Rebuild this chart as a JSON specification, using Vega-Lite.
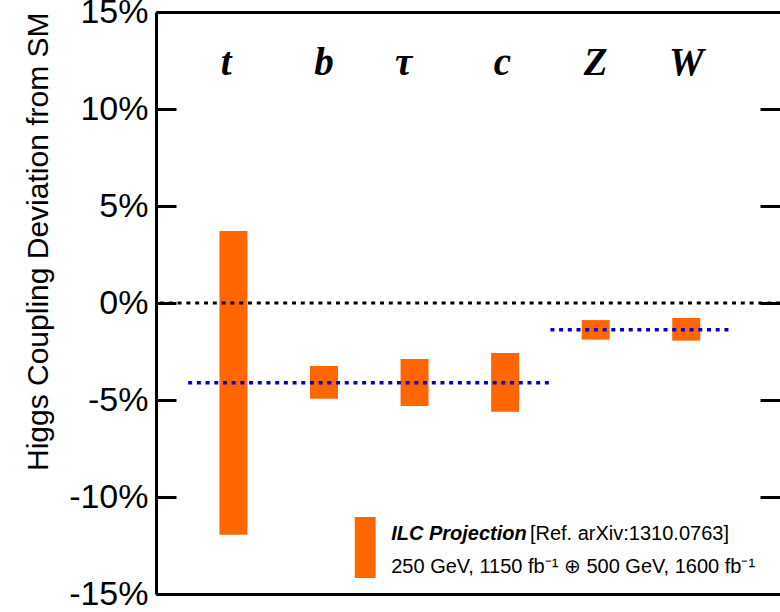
{
  "$schema": "https://vega.github.io/schema/vega-lite/v6.json",
  "width": 624,
  "height": 582,
  "autosize": {"type": "none"},
  "padding": {"left": 156, "top": 12, "right": 0, "bottom": 18},
  "background": "white",
  "config": {"view": {"stroke": null}, "axis": {"grid": false}},
  "datasets": {
    "couplings": [
      {"coupling": "t", "pos": 1, "label_x": 0.92, "low": -11.95, "high": 3.71},
      {"coupling": "b", "pos": 2, "label_x": 2.0, "low": -4.93, "high": -3.25},
      {"coupling": "τ", "pos": 3, "label_x": 2.88, "low": -5.31, "high": -2.89},
      {"coupling": "c", "pos": 4, "label_x": 3.97, "low": -5.6, "high": -2.58},
      {"coupling": "Z", "pos": 5, "label_x": 5.0, "low": -1.89, "high": -0.88},
      {"coupling": "W", "pos": 6, "label_x": 6.0, "low": -1.94, "high": -0.77}
    ],
    "averages": [
      {"group": "fermions", "start": 0.5, "end": 4.5, "mean": -4.11},
      {"group": "bosons", "start": 4.5, "end": 6.47, "mean": -1.38}
    ],
    "reference": [{"value": 0}],
    "legend_box": [{"x1": 2.34, "x2": 2.57, "y1": -11.03, "y2": -14.18}],
    "legend_text": [
      {"part": "title", "text": "ILC Projection", "x": 2.742, "y": -12.22},
      {"part": "ref", "text": "[Ref. arXiv:1310.0763]", "x": 4.274, "y": -12.22},
      {"part": "lumi", "text": "250 GeV, 1150 fb⁻¹ ⊕ 500 GeV, 1600 fb⁻¹", "x": 2.742, "y": -13.92}
    ]
  },
  "resolve": {"axis": {"x": "independent", "y": "independent"}},
  "layer": [
    {
      "data": {"name": "couplings"},
      "mark": {"type": "bar", "size": 28, "color": "#ff6600"},
      "encoding": {
        "x": {"field": "pos", "type": "quantitative",
          "scale": {"domain": [0.2, 6.98], "nice": false, "zero": false},
          "axis": {"orient": "bottom", "domainColor": "black", "domainWidth": 3, "ticks": false, "labels": false, "title": null, "grid": false}},
        "y": {"field": "high", "type": "quantitative",
          "scale": {"domain": [-15, 15], "nice": false, "zero": false},
          "axis": {"orient": "left", "values": [-15, -10, -5, 0, 5, 10, 15], "labelExpr": "datum.value + '%'",
            "labelFont": "Liberation Sans", "labelFontSize": 34, "labelColor": "black", "labelPadding": 28,
            "labelFlush": false, "labelOverlap": false, "labelBound": false,
            "tickSize": -20, "tickWidth": 3, "tickColor": "black",
            "domainColor": "black", "domainWidth": 3,
            "title": "Higgs Coupling Deviation from SM", "titleFont": "Liberation Sans", "titleFontSize": 30,
            "titleFontWeight": "normal", "titleColor": "black", "titleAnchor": "end", "titlePadding": 15, "grid": false}},
        "y2": {"field": "low"}
      }
    },
    {
      "data": {"name": "reference"},
      "mark": {"type": "rule", "color": "black", "strokeWidth": 3, "strokeDash": [4, 4.8]},
      "encoding": {
        "y": {"field": "value", "type": "quantitative",
          "scale": {"domain": [-15, 15], "nice": false, "zero": false},
          "axis": {"orient": "right", "values": [-10, -5, 0, 5, 10], "labels": false, "domain": false,
            "tickSize": -20, "tickWidth": 3, "tickColor": "black", "title": null, "grid": false}}
      }
    },
    {
      "data": {"name": "averages"},
      "mark": {"type": "rule", "color": "#0000cc", "strokeWidth": 3.5, "strokeDash": [4, 4.7]},
      "encoding": {
        "x": {"field": "start", "type": "quantitative",
          "scale": {"domain": [0.2, 6.98], "nice": false, "zero": false},
          "axis": {"orient": "top", "domainColor": "black", "domainWidth": 3, "ticks": false, "labels": false, "title": null, "grid": false}},
        "x2": {"field": "end"},
        "y": {"field": "mean", "type": "quantitative", "scale": {"domain": [-15, 15], "nice": false, "zero": false}, "axis": null}
      }
    },
    {
      "data": {"name": "couplings"},
      "mark": {"type": "text", "font": "Liberation Serif", "fontSize": 39, "fontWeight": "bold", "fontStyle": "italic",
        "baseline": "alphabetic", "align": "center", "color": "black"},
      "encoding": {
        "x": {"field": "label_x", "type": "quantitative", "scale": {"domain": [0.2, 6.98], "nice": false, "zero": false}, "axis": null},
        "y": {"datum": 11.75, "type": "quantitative", "scale": {"domain": [-15, 15], "nice": false, "zero": false}, "axis": null},
        "text": {"field": "coupling"}
      }
    },
    {
      "data": {"name": "legend_box"},
      "mark": {"type": "rect", "color": "#ff6600"},
      "encoding": {
        "x": {"field": "x1", "type": "quantitative", "scale": {"domain": [0.2, 6.98], "nice": false, "zero": false}, "axis": null},
        "x2": {"field": "x2"},
        "y": {"field": "y1", "type": "quantitative", "scale": {"domain": [-15, 15], "nice": false, "zero": false}, "axis": null},
        "y2": {"field": "y2"}
      }
    },
    {
      "data": {"name": "legend_text"},
      "transform": [{"filter": "datum.part === 'title'"}],
      "mark": {"type": "text", "font": "Liberation Sans", "fontSize": 20, "fontWeight": "bold", "fontStyle": "italic",
        "baseline": "alphabetic", "align": "left", "color": "black"},
      "encoding": {
        "x": {"field": "x", "type": "quantitative", "scale": {"domain": [0.2, 6.98], "nice": false, "zero": false}, "axis": null},
        "y": {"field": "y", "type": "quantitative", "scale": {"domain": [-15, 15], "nice": false, "zero": false}, "axis": null},
        "text": {"field": "text"}
      }
    },
    {
      "data": {"name": "legend_text"},
      "transform": [{"filter": "datum.part !== 'title'"}],
      "mark": {"type": "text", "font": "Liberation Sans", "fontSize": 20,
        "baseline": "alphabetic", "align": "left", "color": "black"},
      "encoding": {
        "x": {"field": "x", "type": "quantitative", "scale": {"domain": [0.2, 6.98], "nice": false, "zero": false}, "axis": null},
        "y": {"field": "y", "type": "quantitative", "scale": {"domain": [-15, 15], "nice": false, "zero": false}, "axis": null},
        "text": {"field": "text"}
      }
    }
  ]
}
